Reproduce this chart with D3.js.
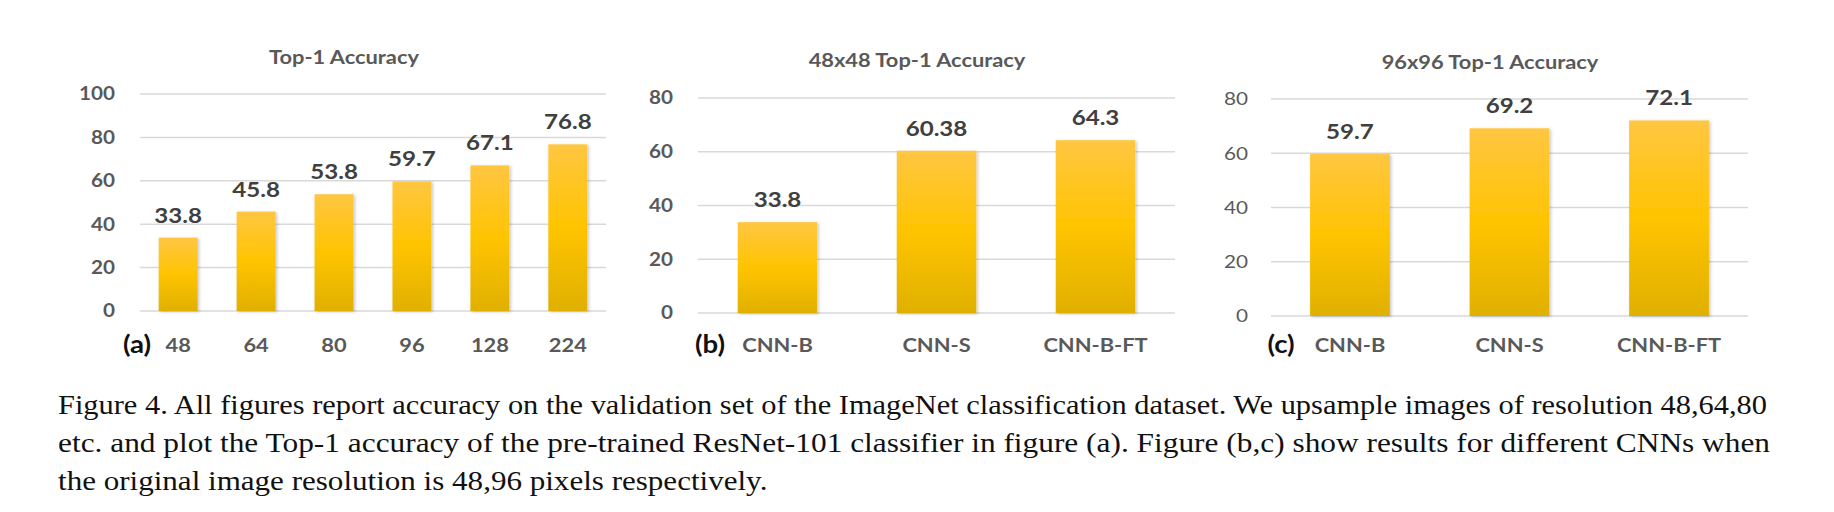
<!DOCTYPE html>
<html>
<head>
<meta charset="utf-8">
<script src="https://cdn.jsdelivr.net/npm/d3@7"></script>
<style>
  html, body { margin: 0; padding: 0; background: #fff; }
  svg { display: block; }
</style>
</head>
<body>
<svg id="chart" width="1834" height="512"></svg>
<script>
// ---------------- data ----------------
const resolutions = ["48", "64", "80", "96", "128", "224"];
const top1Accuracy = [33.8, 45.8, 53.8, 59.7, 67.1, 76.8];
const top1Labels = ["33.8", "45.8", "53.8", "59.7", "67.1", "76.8"];

const cnnNames = ["CNN-B", "CNN-S", "CNN-B-FT"];
const acc48 = [33.8, 60.38, 64.3];
const acc48Labels = ["33.8", "60.38", "64.3"];
const acc96 = [59.7, 69.2, 72.1];
const acc96Labels = ["59.7", "69.2", "72.1"];

const yTicksA = [0, 20, 40, 60, 80, 100];
const yTicksBC = [0, 20, 40, 60, 80];

const panelTitles = ["Top-1 Accuracy", "48x48 Top-1 Accuracy", "96x96 Top-1 Accuracy"];
const panelLetters = ["(a)", "(b)", "(c)"];

const captionLines = [
  "Figure 4. All figures report accuracy on the validation set of the ImageNet classification dataset. We upsample images of resolution 48,64,80",
  "etc. and plot the Top-1 accuracy of the pre-trained ResNet-101 classifier in figure (a). Figure (b,c) show results for different CNNs when",
  "the original image resolution is 48,96 pixels respectively."
];

// ---------------- drawing ----------------
const svg = d3.select("#chart");
const FONT = "Lato, 'Open Sans', sans-serif";
const SX = 1.15; // horizontal stretch of the original figure

function stretched(sel, x, y) {
  return sel.attr("transform", `translate(${x},${y}) scale(${SX},1)`);
}

const defs = svg.append("defs");
const grad = defs.append("linearGradient")
  .attr("id", "barGrad").attr("x1", 0).attr("y1", 0).attr("x2", 0).attr("y2", 1);
grad.append("stop").attr("offset", "0%").attr("stop-color", "#FFC642");
grad.append("stop").attr("offset", "50%").attr("stop-color", "#FFC400");
grad.append("stop").attr("offset", "100%").attr("stop-color", "#E0B000");

const shadow = defs.append("filter").attr("id", "barShadow")
  .attr("x", "-20%").attr("y", "-10%").attr("width", "140%").attr("height", "120%");
shadow.append("feDropShadow").attr("dx", 1.5).attr("dy", 1).attr("stdDeviation", 1.5)
  .attr("flood-color", "#000").attr("flood-opacity", 0.22);

const panels = [
  { cats: resolutions, vals: top1Accuracy, labels: top1Labels, ticks: yTicksA, ymax: 100,
    x0: 140, x1: 606, yTop: 94, yBot: 311, pIn: 0.5, pOut: 0.24,
    title: panelTitles[0], titleX: 344, titleY: 57,
    letter: panelLetters[0], letterX: 137, tickWeight: 700, tickGap: 25 },
  { cats: cnnNames, vals: acc48, labels: acc48Labels, ticks: yTicksBC, ymax: 80,
    x0: 698, x1: 1175, yTop: 98, yBot: 313, pIn: 0.5, pOut: 0.25,
    title: panelTitles[1], titleX: 917, titleY: 60,
    letter: panelLetters[1], letterX: 710, tickWeight: 700, tickGap: 25 },
  { cats: cnnNames, vals: acc96, labels: acc96Labels, ticks: yTicksBC, ymax: 80,
    x0: 1271, x1: 1748, yTop: 99, yBot: 316, pIn: 0.5, pOut: 0.245,
    title: panelTitles[2], titleX: 1490, titleY: 62,
    letter: panelLetters[2], letterX: 1281, tickWeight: 400, tickGap: 23 }
];

panels.forEach(p => {
  const g = svg.append("g");
  const x = d3.scaleBand().domain(p.cats).range([p.x0, p.x1])
    .paddingInner(p.pIn).paddingOuter(p.pOut);
  const y = d3.scaleLinear().domain([0, p.ymax]).range([p.yBot, p.yTop]);

  // gridlines
  g.selectAll("line.grid").data(p.ticks).join("line")
    .attr("class", "grid")
    .attr("x1", p.x0).attr("x2", p.x1)
    .attr("y1", d => y(d)).attr("y2", d => y(d))
    .attr("stroke", "#D9D9D9").attr("stroke-width", 1.5);

  // y tick labels
  g.selectAll("text.ytick").data(p.ticks).join("text")
    .attr("class", "ytick")
    .each(function (d) { stretched(d3.select(this), p.x0 - p.tickGap, y(d)); })
    .attr("dy", "0.36em")
    .attr("text-anchor", "end")
    .attr("font-family", FONT).attr("font-size", 18)
    .attr("font-weight", p.tickWeight)
    .attr("fill", "#595959")
    .text(d => d);

  // bars
  const idx = d3.range(p.cats.length);
  g.selectAll("rect.bar").data(idx).join("rect")
    .attr("class", "bar")
    .attr("x", i => x(p.cats[i]))
    .attr("width", x.bandwidth())
    .attr("y", i => y(p.vals[i]))
    .attr("height", i => y(0) - y(p.vals[i]))
    .attr("fill", "url(#barGrad)")
    .attr("filter", "url(#barShadow)");

  // value labels
  g.selectAll("text.val").data(idx).join("text")
    .attr("class", "val")
    .each(function (i) {
      stretched(d3.select(this), x(p.cats[i]) + x.bandwidth() / 2, y(p.vals[i]) - 15);
    })
    .attr("text-anchor", "middle")
    .attr("font-family", FONT).attr("font-size", 21).attr("font-weight", 700)
    .attr("fill", "#404040")
    .text(i => p.labels[i]);

  // x category labels
  g.selectAll("text.xcat").data(p.cats).join("text")
    .attr("class", "xcat")
    .each(function (d) { stretched(d3.select(this), x(d) + x.bandwidth() / 2, 352); })
    .attr("text-anchor", "middle")
    .attr("font-family", FONT).attr("font-size", 19).attr("font-weight", 700)
    .attr("fill", "#595959")
    .text(d => d);

  // panel letter
  stretched(g.append("text"), p.letterX, 353)
    .attr("text-anchor", "middle")
    .attr("font-family", FONT).attr("font-size", 24).attr("font-weight", 700)
    .attr("fill", "#111")
    .text(p.letter);

  // title
  stretched(g.append("text"), p.titleX, p.titleY)
    .attr("dy", "0.36em")
    .attr("text-anchor", "middle")
    .attr("font-family", FONT).attr("font-size", 19).attr("font-weight", 700)
    .attr("fill", "#595959")
    .text(p.title);
});

// caption
const capBaselines = [414, 452, 490];
const capJustify = [1709, 1712, null];
captionLines.forEach((line, i) => {
  const t = svg.append("text")
    .attr("x", 58).attr("y", capBaselines[i])
    .attr("font-family", "'Liberation Serif', 'Times New Roman', serif")
    .attr("font-size", 27)
    .attr("fill", "#111")
    .text(line);
  const natural = t.node().getComputedTextLength();
  const target = capJustify[i] || natural * SX;
  t.attr("textLength", target).attr("lengthAdjust", "spacingAndGlyphs");
});
</script>
</body>
</html>
